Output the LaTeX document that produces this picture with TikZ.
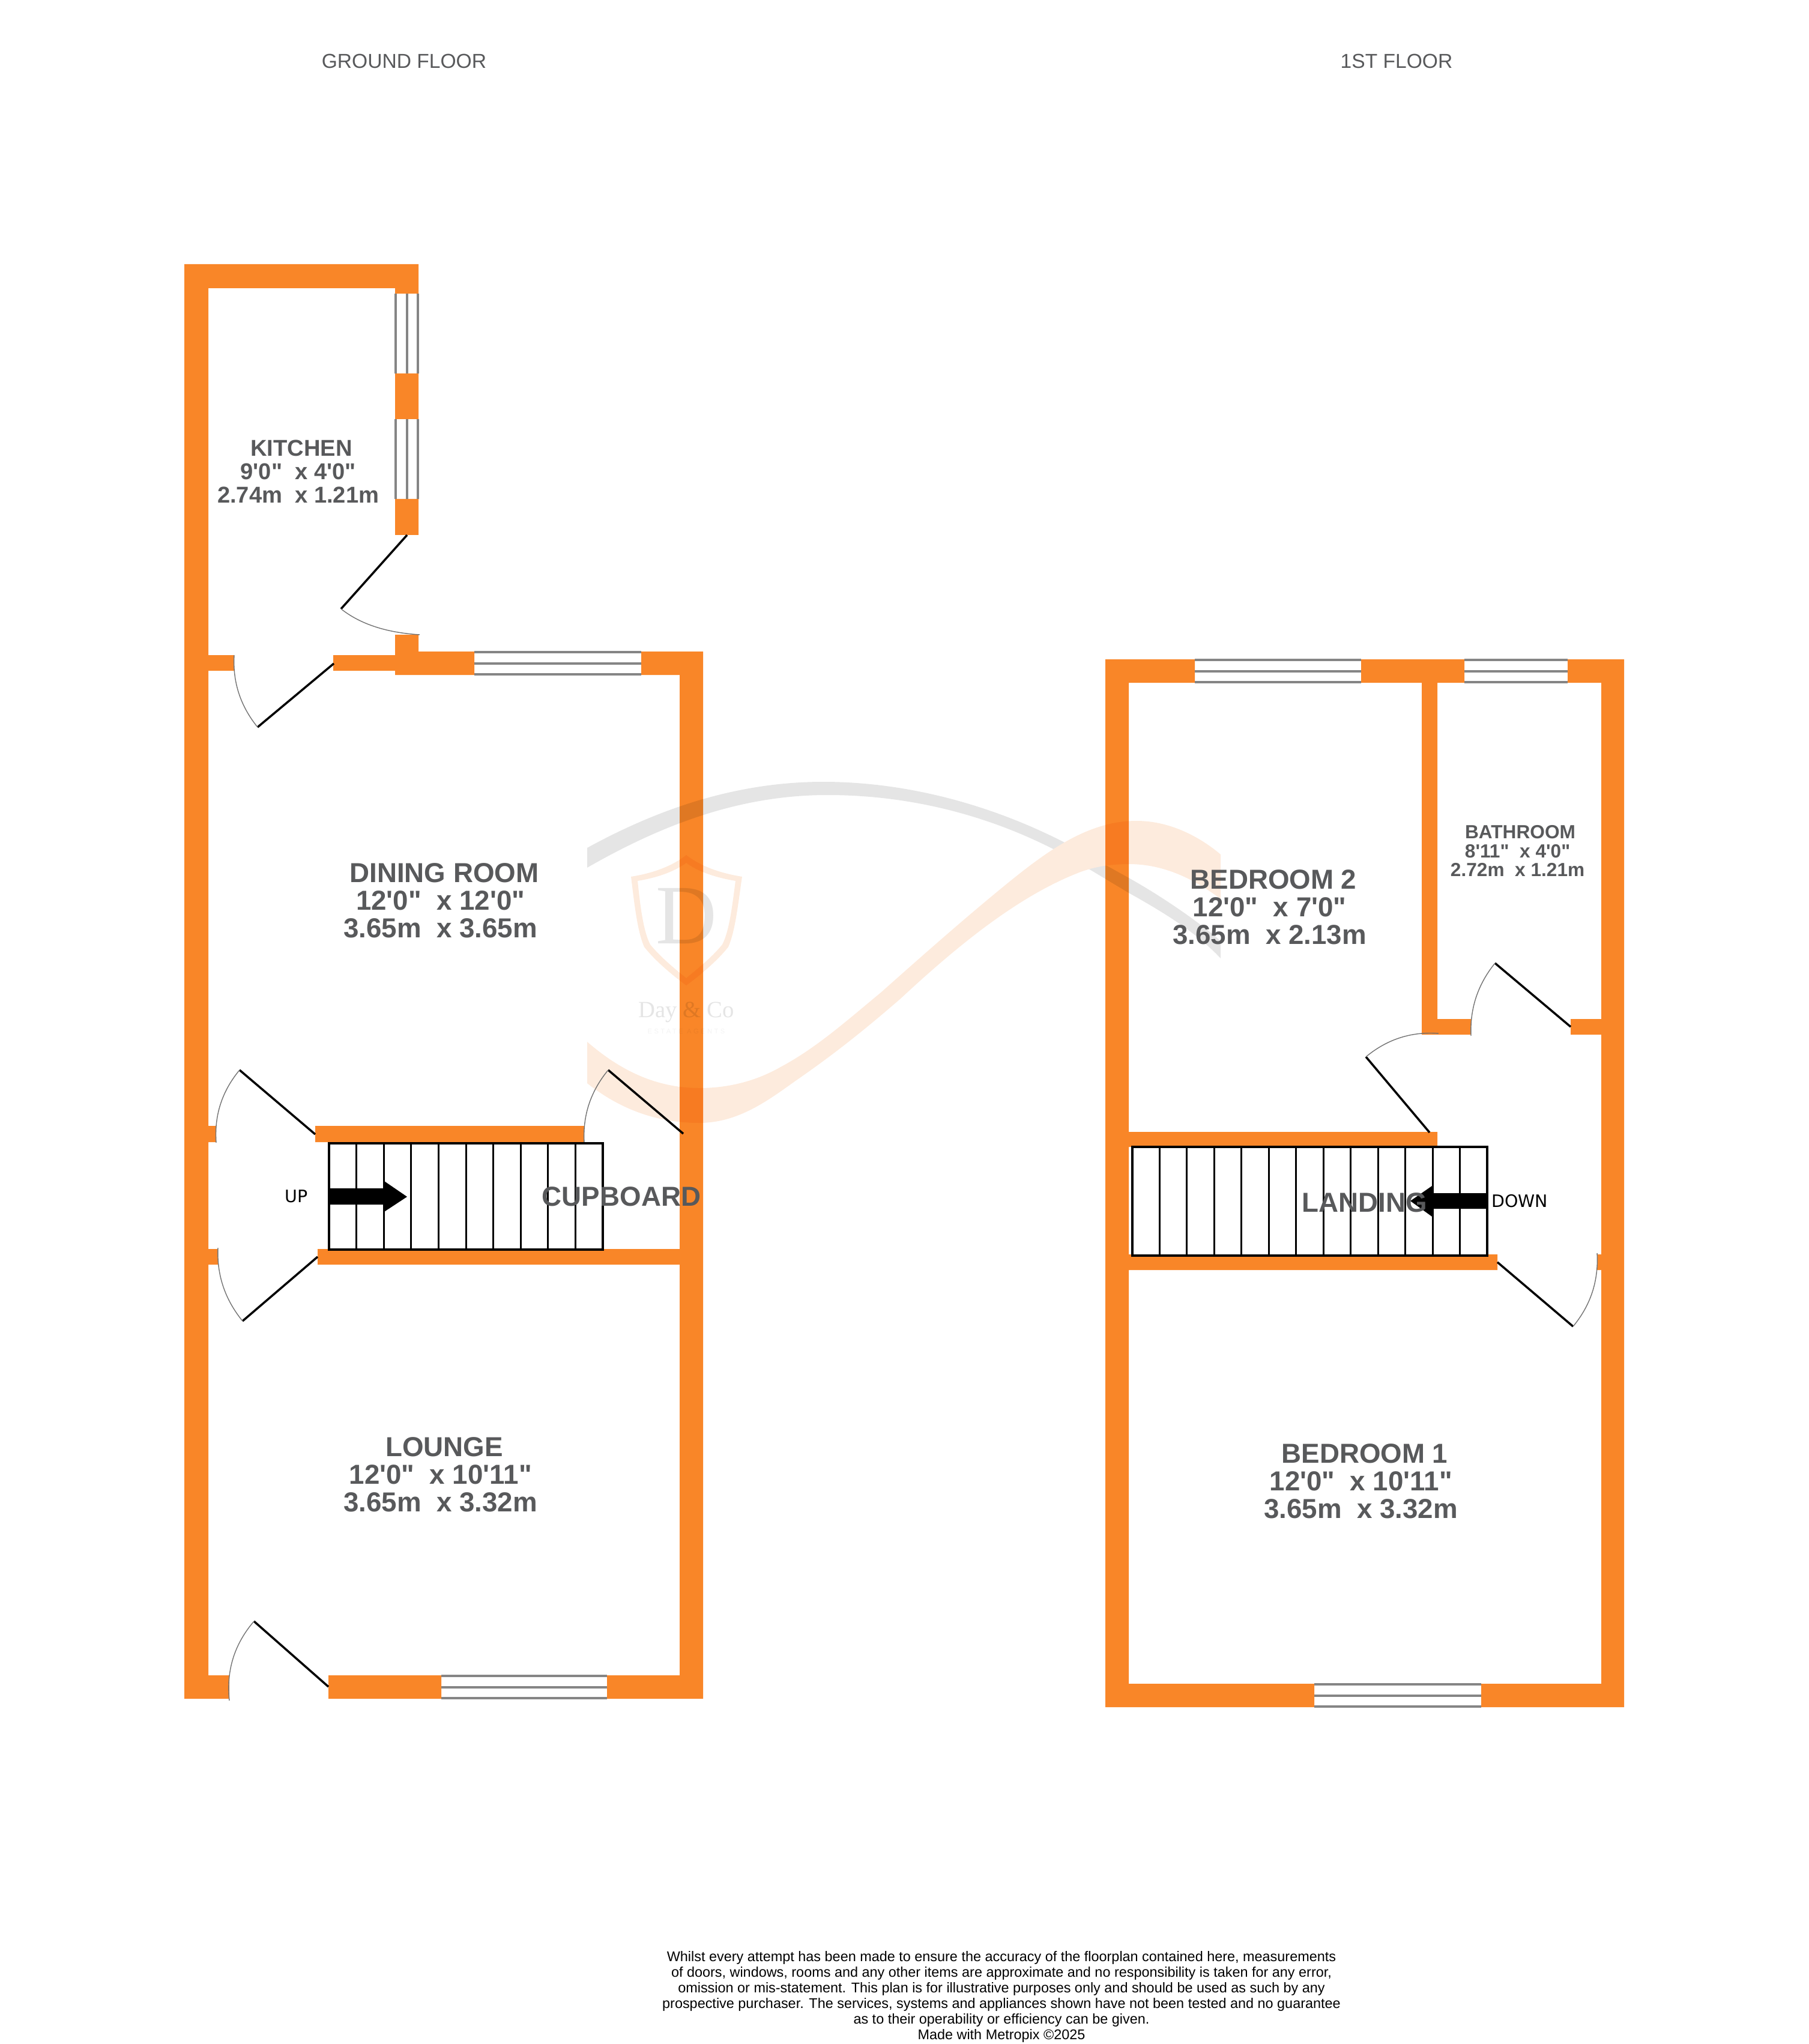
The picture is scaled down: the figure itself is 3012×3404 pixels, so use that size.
\documentclass[tikz,border=0pt]{standalone}
\usepackage{fontspec}
\usetikzlibrary{calc}
\newfontfamily\planfont{Liberation Sans}
\newfontfamily\stairfont{DejaVu Sans}
\newfontfamily\crestfont{Liberation Serif}
\newfontfamily\spacedfont[LetterSpace=30]{Liberation Sans}
\definecolor{wallorange}{HTML}{F98628}
\definecolor{labelgray}{HTML}{58595B}
\definecolor{paneorange}{HTML}{FDEBDD}
\definecolor{panegray}{HTML}{E5E5E5}
\definecolor{glassgray}{HTML}{858585}
\newcommand{\doorswing}[4]{%
\draw[doorleaf] (#1) -- (#2);
\draw[doorarc] (#2) .. controls ($(#2)!.667!(#3)$) and ($(#4)!.667!(#3)$) .. (#4);
}
\newcommand{\tailgap}{~\kern0pt}
\tikzset{
  doorleaf/.style={black, line width=1pt},
  doorarc/.style={gray!90!black, line width=.4pt},
  glass/.style={glassgray, line width=1pt},
  tread/.style={black, line width=.85pt},
  roomlabel/.style={labelgray, font=\planfont\bfseries\fontsize{13}{13.1}\selectfont, align=center, inner sep=0pt},
  smalllabel/.style={roomlabel, font=\planfont\bfseries\fontsize{10.85}{11}\selectfont},
  tinylabel/.style={roomlabel, font=\planfont\bfseries\fontsize{9}{9}\selectfont},
  flooterm/.style={labelgray, font=\planfont\fontsize{9.55}{12}\selectfont, inner sep=0pt},
  stairlabel/.style={black, font=\stairfont\fontsize{8.1}{9}\selectfont, inner sep=0pt},
}

\begin{document}
\begin{tikzpicture}[x=.01cm, y=-.01cm]
\useasboundingbox (0,0) rectangle (3012,3404);

% crest
\fill[panegray] (978,1412) .. controls (1100,1345) and (1230,1302) .. (1371,1302)
  .. controls (1510,1302) and (1650,1340) .. (1773,1403)
  -- (1880,1462)
  .. controls (1930,1490) and (1990,1530) .. (2033,1567) -- (2033,1596)
  .. controls (1990,1550) and (1930,1515) .. (1880,1487)
  -- (1815,1448)
  .. controls (1680,1365) and (1530,1324) .. (1378,1324)
  .. controls (1230,1324) and (1100,1375) .. (978,1445) -- cycle;
\fill[paneorange] (978,1735) .. controls (1030,1780) and (1090,1812) .. (1165,1812)
  .. controls (1220,1812) and (1265,1797) .. (1300,1777)
  .. controls (1360,1745) and (1410,1700) .. (1467,1653)
  .. controls (1530,1597) and (1600,1535) .. (1667,1480)
  .. controls (1740,1420) and (1810,1367) .. (1893,1367)
  .. controls (1950,1367) and (2000,1395) .. (2033,1423) -- (2033,1497)
  .. controls (1990,1465) and (1940,1439) .. (1880,1439)
  .. controls (1850,1439) and (1825,1443) .. (1800,1452)
  .. controls (1700,1490) and (1600,1570) .. (1500,1663)
  .. controls (1440,1715) and (1390,1755) .. (1325,1800)
  .. controls (1280,1832) and (1230,1870) .. (1165,1870)
  .. controls (1090,1870) and (1030,1845) .. (978,1804) -- cycle;
\fill[paneorange, even odd rule] (1143,1424) .. controls (1170,1445) and (1205,1455) .. (1236,1460)
  .. controls (1230,1500) and (1225,1550) .. (1213,1577)
  .. controls (1195,1600) and (1165,1625) .. (1143,1641)
  .. controls (1121,1625) and (1091,1600) .. (1073,1577)
  .. controls (1061,1550) and (1056,1500) .. (1051,1460)
  .. controls (1082,1455) and (1116,1445) .. (1143,1424) -- cycle
  (1143,1437) .. controls (1165,1453) and (1195,1462) .. (1225,1467)
  .. controls (1220,1505) and (1215,1550) .. (1203,1573)
  .. controls (1185,1595) and (1160,1615) .. (1143,1629)
  .. controls (1126,1615) and (1101,1595) .. (1083,1573)
  .. controls (1071,1550) and (1066,1505) .. (1062,1467)
  .. controls (1092,1462) and (1121,1453) .. (1143,1437) -- cycle;
\node[panegray, inner sep=0pt, font=\crestfont\fontsize{40}{40}\selectfont] (crestletter) at (1143,1526) {D};
\node[panegray, inner sep=0pt, font=\crestfont\fontsize{11}{11}\selectfont] (crestname) at (1143,1686) {Day \& Co};
\node[panegray!45, inner sep=0pt, font=\spacedfont\fontsize{3.2}{4}\selectfont] (cresttrade) at (1143,1718) {ESTATE AGENTS};

% walls, ground floor then first floor
\fill[wallorange, blend mode=multiply]
  (307,440) rectangle (347,2829)
  (347,440) rectangle (697,480)
  (658,480) rectangle (697,489)
  (658,622) rectangle (697,698)
  (658,831) rectangle (697,891)
  (658,1057) rectangle (697,1124)
  (347,1091) rectangle (390,1117)
  (555,1091) rectangle (658,1117)
  (697,1085) rectangle (790,1124)
  (1068,1085) rectangle (1171,1124)
  (1132,1124) rectangle (1171,2829)
  (347,1875) rectangle (360,1902)
  (525,1875) rectangle (973,1902)
  (347,2080) rectangle (363,2106)
  (529,2080) rectangle (1132,2106)
  (347,2790) rectangle (382,2829)
  (547,2790) rectangle (735,2829)
  (1011,2790) rectangle (1132,2829)
  (1841,1098) rectangle (1880,2843)
  (1880,1098) rectangle (1990,1137)
  (2267,1098) rectangle (2439,1137)
  (2611,1098) rectangle (2705,1137)
  (2667,1137) rectangle (2705,2843)
  (2368,1137) rectangle (2394,1723)
  (2394,1697) rectangle (2450,1723)
  (2616,1697) rectangle (2667,1723)
  (1880,1885) rectangle (2394,1910)
  (1880,2089) rectangle (2494,2115)
  (2660,2089) rectangle (2667,2115)
  (1880,2804) rectangle (2189,2843)
  (2467,2804) rectangle (2667,2843);

% windows
\foreach \y in {2791,2810,2828}
\draw[glass] (735,\y) -- (1011,\y);
\foreach \y in {1086,1105,1123}
\draw[glass] (790,\y) -- (1068,\y);
\foreach \x in {659,678,696} {
\draw[glass] (\x,489) -- (\x,622);
\draw[glass] (\x,698) -- (\x,831);
}
\foreach \y in {1099,1118,1136} {
\draw[glass] (1990,\y) -- (2267,\y);
\draw[glass] (2439,\y) -- (2611,\y);
}
\foreach \y in {2805,2824,2842}
\draw[glass] (2189,\y) -- (2467,\y);

% doors
\doorswing{678,891}{568,1014}{616,1052}{699,1057}
\doorswing{556,1105}{429,1211}{386,1158}{390,1091}
\doorswing{525,1889}{399,1782}{355,1835}{360,1903}
\doorswing{529,2093}{404,2200}{360,2146}{363,2078}
\doorswing{1138,1888}{1013,1782}{969,1835}{973,1903}
\doorswing{547,2809}{423,2700}{374,2757}{382,2832}
\doorswing{2616,1710}{2490,1604}{2447,1657}{2450,1725}
\doorswing{2381,1886}{2275,1760}{2328,1716}{2396,1721}
\doorswing{2494,2102}{2620,2209}{2664,2156}{2660,2087}

% stairs
\draw[tread, line width=1.1pt] (548,1904) rectangle (1004,2081);
\foreach \i in {1,...,9}
\draw[tread] (548+45.6*\i,1904) -- (548+45.6*\i,2081);
\fill[black] (548,1979) -- (640,1979) -- (640,1967) -- (678,1993) -- (640,2018) -- (640,2006) -- (548,2006) -- cycle;
\draw[tread, line width=1.1pt] (1886,1910) rectangle (2477,2091);
\foreach \i in {1,...,12}
\draw[tread] (1886+45.46*\i,1910) -- (1886+45.46*\i,2091);
\fill[black] (2477,1987) -- (2385,1987) -- (2385,1975) -- (2349,2000) -- (2385,2026) -- (2385,2013) -- (2477,2013) -- cycle;
\node[stairlabel] (uplabel) at (494,1992) {UP};
\node[stairlabel] (downlabel) at (2531,2000) {DOWN};

% labels
\node[flooterm] (groundfloor) at (673,102) {GROUND FLOOR};
\node[flooterm] (firstfloor) at (2326,102) {1ST FLOOR};
\node[smalllabel] (kitchen) at (502,785) {KITCHEN\\9'0"~~x 4'0"\tailgap\\2.74m~~x 1.21m\tailgap};
\node[roomlabel] (dining) at (740,1500) {DINING ROOM\\12'0"~~x 12'0"\tailgap\\3.65m~~x 3.65m\tailgap};
\node[roomlabel] (lounge) at (740,2456) {LOUNGE\\12'0"~~x 10'11"\tailgap\\3.65m~~x 3.32m\tailgap};
\node[roomlabel] (cupboard) at (1035,1993) {CUPBOARD};
\node[roomlabel] (bedroomtwo) at (2121,1511) {BEDROOM 2\\12'0"~~x 7'0"\tailgap\\3.65m~~x 2.13m\tailgap};
\node[roomlabel] (bedroomone) at (2273,2467) {BEDROOM 1\\12'0"~~x 10'11"\tailgap\\3.65m~~x 3.32m\tailgap};
\node[tinylabel] (bathroom) at (2532,1417) {BATHROOM\\8'11"~~x 4'0"\tailgap\\2.72m~~x 1.21m\tailgap};
\node[roomlabel] (landing) at (2273,2003) {LANDING};

\node[black, inner sep=0pt, align=center, font=\planfont\fontsize{6.66}{7.4}\selectfont] (disclaimer) at (1668,3325) {Whilst every attempt has been made to ensure the accuracy of the floorplan contained here, measurements\\of doors, windows, rooms and any other items are approximate and no responsibility is taken for any error,\\omission or mis-statement. This plan is for illustrative purposes only and should be used as such by any\\prospective purchaser. The services, systems and appliances shown have not been tested and no guarantee\\as to their operability or efficiency can be given.\\Made with Metropix \textcopyright 2025};
\end{tikzpicture}
\end{document}
